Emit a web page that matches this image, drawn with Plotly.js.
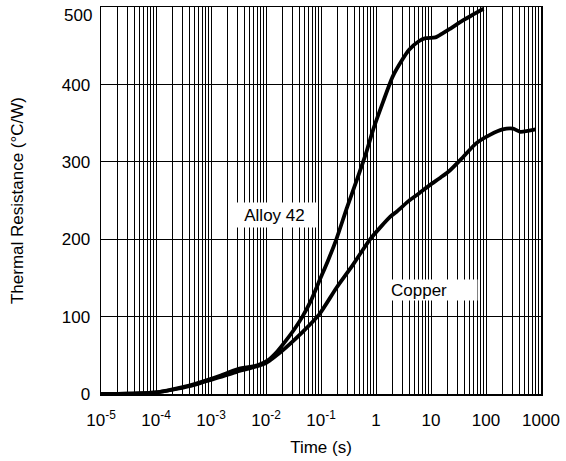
<!DOCTYPE html>
<html>
<head>
<meta charset="utf-8">
<script src="https://cdn.plot.ly/plotly-3.0.1.min.js"></script>
<style>html,body{margin:0;padding:0;background:#fff;}#chart{width:566px;height:461px;}</style>
</head>
<body>
<div id="chart"></div>
<script>
// Alloy 42 curve: time (s) and thermal resistance (°C/W)
var alloyTime = [1e-5, 3e-5, 1e-4, 2e-4, 4e-4, 8.5e-4, 1.5e-3, 3e-3, 5e-3, 7e-3, 0.011, 0.016, 0.023, 0.033, 0.046, 0.068, 0.093, 0.135, 0.19, 0.3, 0.45, 0.65, 0.9, 1.35, 2, 3, 4, 6, 8, 12, 16, 22, 38, 60, 90];
var alloyR    = [0, 0.3, 2, 6, 11, 18, 24, 32, 35, 37, 44, 55, 69, 84, 100, 123, 146, 173, 200, 242, 277, 310, 343, 378, 410, 432, 445, 456, 460, 461, 466, 472, 483, 491, 498];

// Copper curve
var copperTime = [1e-5, 3e-5, 1e-4, 2e-4, 4e-4, 8.5e-4, 1.5e-3, 3e-3, 5e-3, 0.01, 0.015, 0.023, 0.046, 0.093, 0.19, 0.38, 0.78, 1.8, 2.4, 4, 5.7, 9.5, 15, 22, 38, 66, 118, 200, 310, 420, 800];
var copperR    = [0, 0.3, 2, 5.5, 10, 17, 22, 29, 33, 40, 49, 60, 80, 103, 137, 167, 200, 229, 236, 250, 258, 270, 280, 289, 306, 324, 335, 342, 343, 339, 342];

// Axis ticks
var decades = [-5, -4, -3, -2, -1, 0, 1, 2, 3];
var decadeLabels = ['10<sup>-5</sup>', '10<sup>-4</sup>', '10<sup>-3</sup>', '10<sup>-2</sup>', '10<sup>-1</sup>', '1', '10', '100', '1000'];
var yTicks = [0, 100, 200, 300, 400, 500];
var yTickLabels = ['0', '100', '200', '300', '400', '500'];

var xTickVals = [], xTickText = [];
for (var i = 0; i < decades.length; i++) {
  var base = Math.pow(10, decades[i]);
  var kmax = (i === decades.length - 1) ? 1 : 9;
  for (var k = 1; k <= kmax; k++) {
    xTickVals.push(k * base);
    xTickText.push(k === 1 ? decadeLabels[i] : '');
  }
}
// top label drawn as an annotation so it stays inside the page
var yTickTextAxis = yTickLabels.slice(0, -1).concat(['']);
var topLabel = yTickLabels[yTickLabels.length - 1];

var lineStyle = {color: '#000', width: 3.8, shape: 'spline', smoothing: 0.6};
var data = [
  {x: alloyTime, y: alloyR, type: 'scatter', mode: 'lines', name: 'Alloy 42', line: lineStyle},
  {x: copperTime, y: copperR, type: 'scatter', mode: 'lines', name: 'Copper', line: lineStyle}
];

var fnt = {family: 'Liberation Sans, Arial, Helvetica, sans-serif', size: 17, color: '#000'};
var layout = {
  width: 566, height: 461,
  margin: {l: 101, r: 25, t: 7, b: 67},
  paper_bgcolor: '#fff', plot_bgcolor: '#fff',
  showlegend: false,
  font: fnt,
  xaxis: {
    type: 'log', range: [-5, 3],
    tickvals: xTickVals, ticktext: xTickText,
    ticks: '', showgrid: true, gridcolor: '#000', gridwidth: 1,
    showline: true, linecolor: '#000', linewidth: 1.5, mirror: true,
    zeroline: false, tickfont: fnt, ticklabelstandoff: 10, ticklabeloverflow: 'allow',
    title: {text: 'Time (s)', font: fnt, standoff: 12}
  },
  yaxis: {
    range: [0, 500.3], tickvals: yTicks, ticktext: yTickTextAxis,
    ticks: '', showgrid: true, gridcolor: '#000', gridwidth: 1,
    showline: true, linecolor: '#000', linewidth: 1.5, mirror: true,
    zeroline: false, tickfont: fnt, ticklabelstandoff: 6, ticklabeloverflow: 'allow',
    title: {text: 'Thermal Resistance (°C/W)', font: fnt, standoff: 34}
  },
  annotations: [
    {x: -1.845, y: 231, xref: 'x', yref: 'y', text: 'Alloy 42', showarrow: false,
     bgcolor: '#fff', width: 83, height: 22, align: 'center', font: fnt},
    {x: 1.045, y: 134, xref: 'x', yref: 'y', text: 'Copper', showarrow: false,
     bgcolor: '#fff', width: 85, height: 18, align: 'left', font: fnt},
    {x: 0, y: yTicks[yTicks.length - 1], xref: 'paper', yref: 'y', text: topLabel, showarrow: false,
     xanchor: 'right', yanchor: 'top', xshift: -7, yshift: 3, font: fnt}
  ]
};

Plotly.newPlot('chart', data, layout, {staticPlot: true, displayModeBar: false});
</script>
</body>
</html>
